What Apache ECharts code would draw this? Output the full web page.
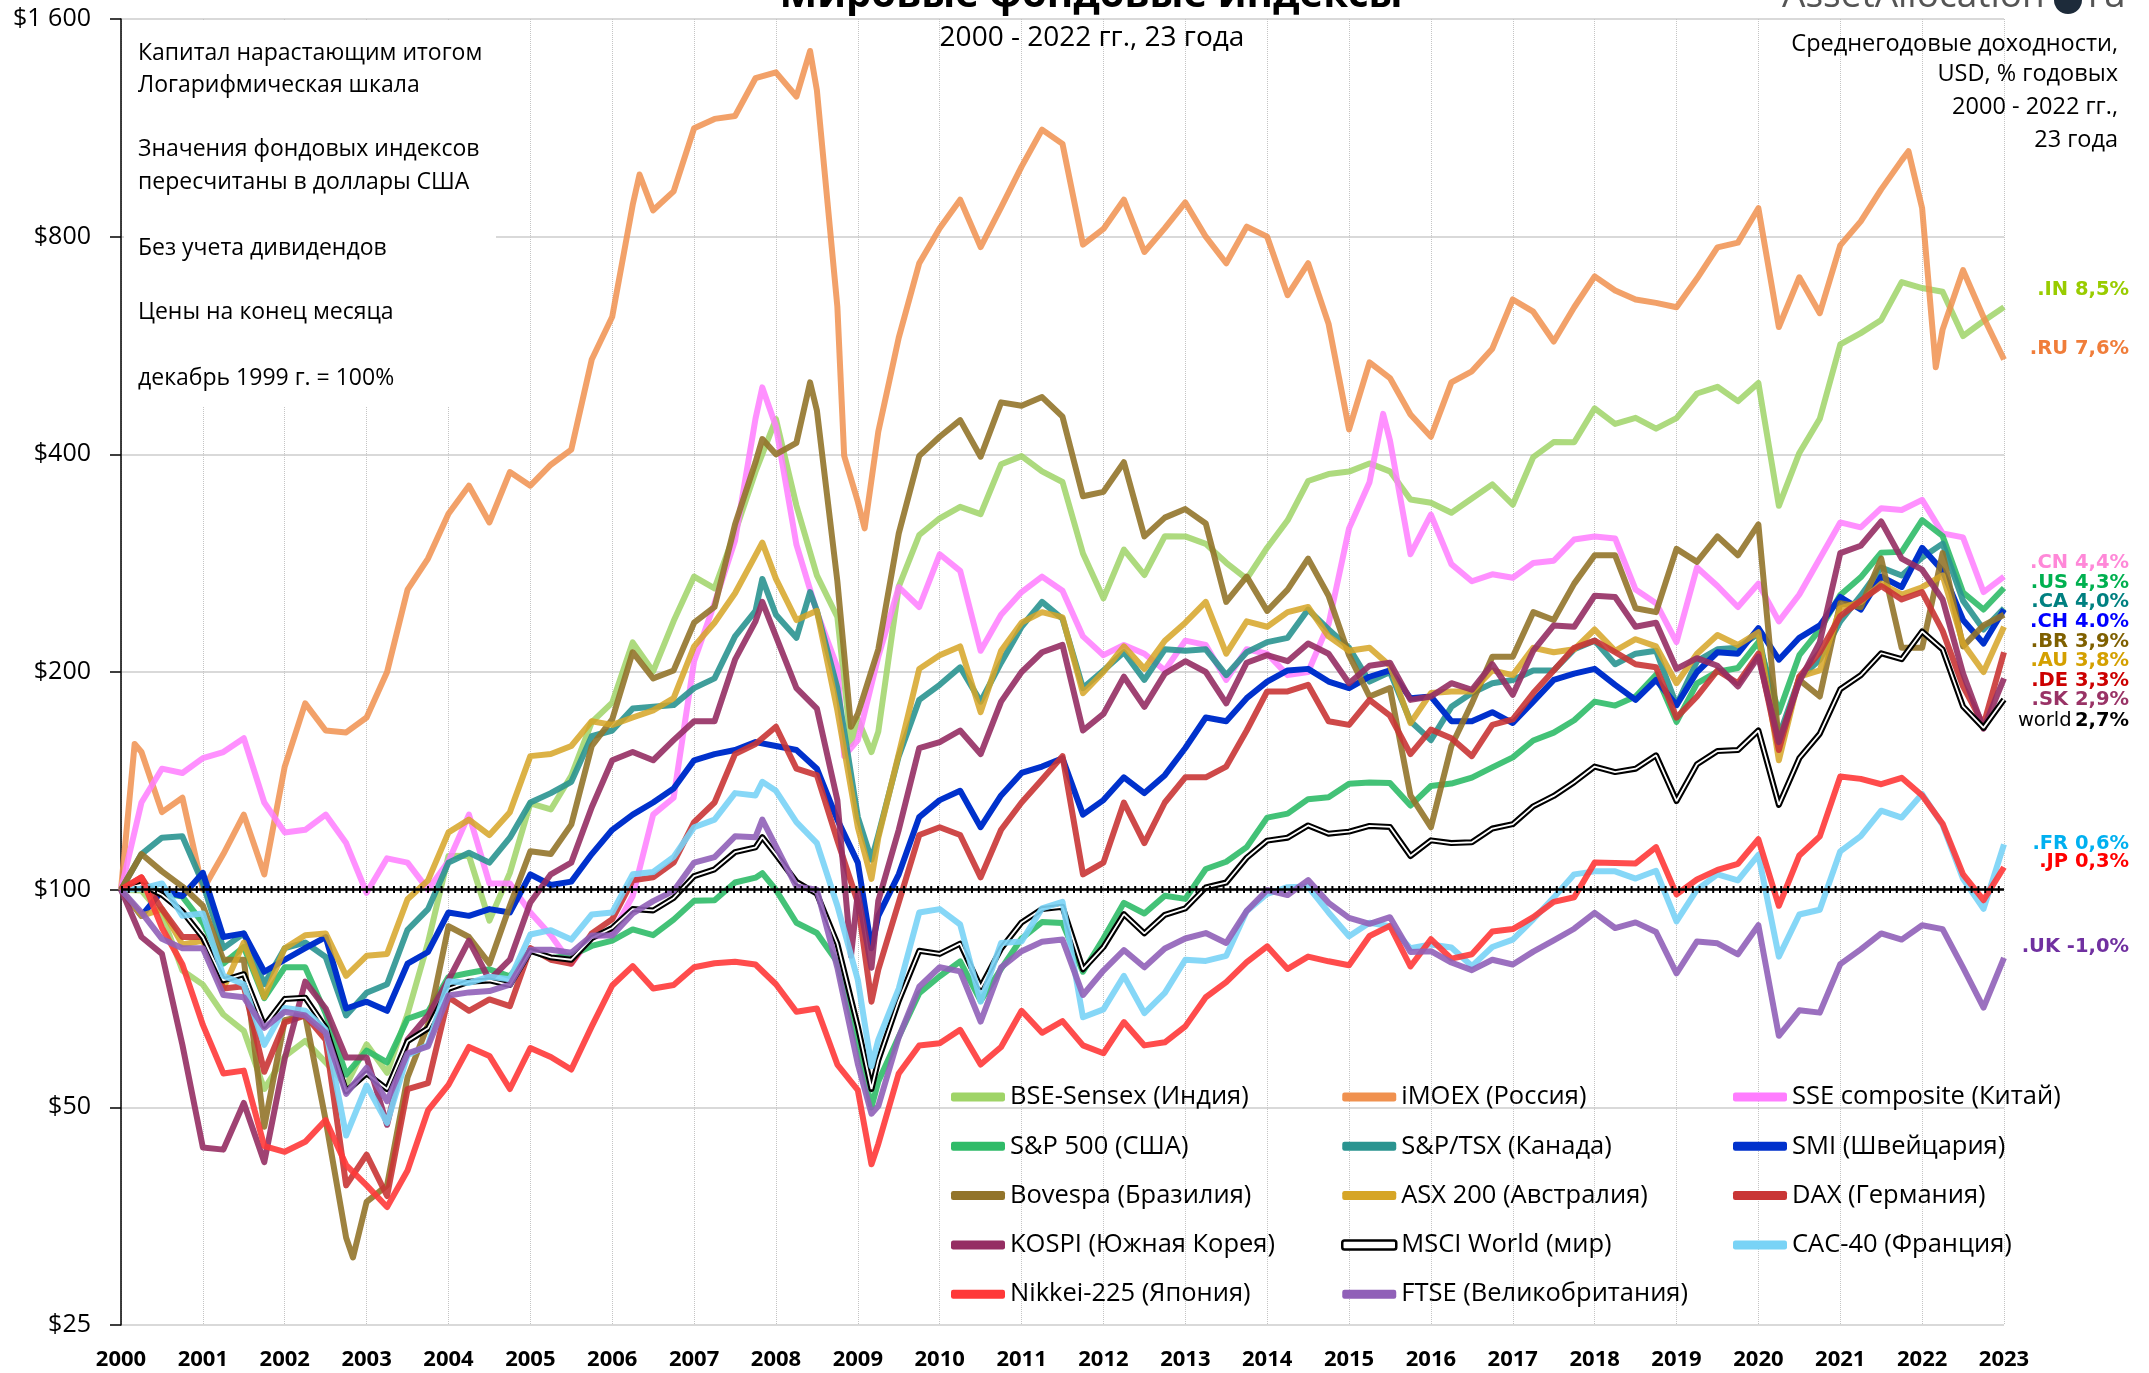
<!DOCTYPE html>
<html><head><meta charset="utf-8">
<script src="https://cdn.jsdelivr.net/npm/echarts@6/dist/echarts.min.js"></script>
<style>html,body{margin:0;padding:0;background:#fff}#c{width:2149px;height:1373px}</style>
</head><body><div id="c"></div>
<script>
// Quarter-end values, Dec 1999 = 100 (index 0), then Mar/Jun/Sep/Dec of 2000..2022
const quarterCount = 93;
const yearTicks = [2000,2001,2002,2003,2004,2005,2006,2007,2008,2009,2010,2011,2012,2013,2014,2015,2016,2017,2018,2019,2020,2021,2022,2023];
const priceTicks = [25, 50, 100, 200, 400, 800, 1600];

const bseIndia = [100,
 99.7,92.3,77.3,73.9, 67.2,63.8,53,58.8, 61.8,57.7,53.6,61.1, 55.8,67.3,84.5,111.3,
 111.4,90.6,105.5,131.6, 129.1,143.7,170.5,181.4, 219.8,200.4,235.2,271, 261.1,312,378.4,447.4,
 339.8,272,238.3,172.1, 165.4,262.4,309.4,326.3, 338.4,330.7,387.5,397.7, 378.8,366.3,291.7,252.9,
 295.3,272.4,308.2,308, 300.8,283.2,269,297.1, 324.2,367.4,375.6,378.6, 388.6,378.9,346.4,342.8,
 332.1,347.5,363.5,340.7, 396.5,415.9,415.6,463.1, 440.7,449.3,434.1,448.9, 485.5,496,473.8,502,
 339.5,401.8,448.1,567.5, 588.4,613.7,692.3,679.3, 671.3,583,611.5,639.2];
const imoexRussia = [100,
 155,128,134,100, 112,127,105,148, 181,166,165,173, 200,260,287,331,
 362,322,378,362, 387,406,541,620, 885,870,924,1130, 1164,1175,1325,1350,
 1250,1275,640,344, 430,580,735,822, 900,774,878,1000, 1125,1075,780,820,
 900,762,822,892, 800,735,826,800, 664,735,606,433, 536,510,454,423,
 503,521,560,655, 630,573,639,705, 674,655,648,639, 700,773,785,876,
 600,703,627,778, 840,930,1020,876, 595,719,619,541];
const sseChina = [100,
 132,147,145,152, 155,162,132,120, 121,127,116,99, 110.5,109,100,109.5,
 127,102,102,93, 86.5,79,86,87, 98,127,134,207, 249,304,448,437,
 300,242,203,161, 210,262,246,291, 276,214,240,258, 271,259,224,211,
 218,212,201,221, 218,195,215,212, 198,200,233,316, 366,418,291,330,
 282,267,273,270, 283,285,305,308, 306,260,249,220, 279,263,246,265,
 235,256,287,322, 317,337,335,346, 311,307,258,271];
const sp500Usa = [100,
 102.0,99.0,97.8,89.9, 79.0,83.3,70.8,78.1, 78.1,67.4,55.5,59.9, 57.7,66.3,67.8,75.7,
 76.7,77.6,75.9,82.5, 80.4,81.1,83.6,85.0, 88.1,86.5,90.9,96.5, 96.7,102.3,103.9,99.9,
 90.0,87.1,79.4,61.5, 54.3,62.6,71.9,75.9, 79.6,70.2,77.7,85.6, 90.2,89.9,77.0,85.6,
 95.9,92.7,98.1,97.1, 106.8,109.3,114.5,125.8, 127.4,133.4,134.2,140.1, 140.7,140.4,130.7,139.1,
 140.2,142.9,147.6,152.4, 160.8,164.9,171.5,182.0, 179.7,185.0,198.3,170.6, 192.9,200.2,202.6,219.9,
 175.9,211.0,228.9,255.6, 270.4,292.5,293.2,324.4, 308.4,257.6,244.0,261.3];
const tsxCanada = [100,
 112,118,118.5,102, 83,87,74,83, 84.5,80.7,67,72, 74,88,94,109,
 112.5,109,118,132, 136,141,163,166, 178,179,180,190, 196,224,243,240,
 223,243,190,126, 119,153,183,192, 203,182,206,231, 250,237,190,201,
 213,195,215,214, 215,198,213,220, 223,244,229,216, 194,200,171,161,
 179,187,193,195, 201,201,215,221, 205,212,214,180, 207,215,216,226,
 163,196,208,235, 255,279,272,288, 301,251,229,245];
const smiSwiss = [100,
 92,99.6,98,105.5, 86,87,77,80, 83,86,68.5,70, 68,79,82,93,
 92,94,93,105, 101.5,102.6,112,121, 127,132,138,151, 154,156,160,158,
 156,147,125,109, 92,105,126,133, 137,122,135,145, 148,152,127,133,
 143,136,144,157, 173,171,184,194, 201,202,194,190, 197,201,184,185,
 171,171,176,170, 182,195,199,202, 192,183,195,180, 200,213,212,230,
 208,223,232,254, 244,271,262,297, 276,236,219,244];
const bovespaBrazil = [100,
 112,106,101,95, 80,80,47,66, 67,48,33,37, 39,55,65,89,
 86,79,95,113, 112,123,158,172, 213,196,201,234, 246,320,390,400,
 415,460,267,175, 215,311,398,423, 446,397,472,467, 480,451,350,355,
 390,308,327,336, 321,250,271,243, 260,287,255,211, 185,190,135,122,
 158,181,210,210, 242,236,265,290, 290,245,242,296, 284,308,290,320,
 160,195,185,249, 246,287,216,216, 292,217,232,240];
const asxAustralia = [100,
 92,94,84,85, 73,84.5,71,83, 86.5,87,76,81, 81.5,97,103,120,
 125,119,128,153, 154,158,171,169, 173,177,184,217, 234,257,290,269,
 236,243,177,122, 118,154,202,211, 217,176,214,234, 242,238,187,200,
 217,202,221,234, 250,212,235,231, 242,246,224,214, 216,204,170,187,
 188,188,201,198, 216,213,215,229, 214,222,217,193, 212,225,218,227,
 151,197,201,245, 250,265,256,262, 272,219,200,231];
const daxGermany = [100,
 104,94,86,86, 73,73.5,56,65.5, 67,62,39,43, 37.7,53,54,71,
 68,70.5,69,83, 80,79,87,91, 103,104,109,124, 132,154,159,168,
 147,144,117,96, 77.5,96,119,122, 119,104,121,132, 142,153,105,109,
 132,116,132,143, 143,148,166,188, 188,192,171,169, 183,174,154,166.5,
 162,153,169,172, 187,201,216,221, 213,205,203,173, 185,201,193,212,
 156,197,213,239, 251,263,252,258, 228,191,169,213];
const kospiKorea = [100,
 86,81.5,61,44, 43.7,50.7,42,58.4, 74.6,68.5,58.6,58.6, 47.3,62,67,75,
 85,75,80,96, 105,109,130,151, 155,151,161,171, 171,208,235,224,
 190,178,133,99, 96.5,121,157,160, 166,154,182,200, 213,218,166,175,
 197,179,199,207, 200,181,206,211, 207,219,212,193, 204,206,183,185,
 193,189,205,186, 214,232,231,255, 254,231,234,202, 209,204,191,210,
 160,194,220,292, 299,323,287,277, 252,199,167,196];
const msciWorld = [100,
 101.6,98.4,93.3,85.9, 74.9,76.4,64.8,70.6, 70.9,64.4,52.6,55.7, 53.0,61.7,64.3,72.9,
 74.6,74.9,73.8,82.3, 80.6,80.0,85.7,88.5, 94.0,93.6,97.4,104.4, 106.7,112.7,114.4,111.8,
 102.5,98.7,84.2,64.7, 58.1,70.2,82.3,81.5, 84.2,73.3,82.9,90.1, 94.0,94.7,77.6,83.3,
 92.5,87.0,92.3,94.2, 100.7,102.3,110.7,116.9, 118.0,122.7,119.5,120.3, 122.5,122.1,111.3,117.0,
 116.0,116.3,121.5,123.2, 130.4,134.8,140.8,148.0, 145.4,147.0,153.4,132.6, 149.1,155.5,156.0,166.0,
 131.0,152.0,164.3,189.3, 197.9,212.3,208.3,227.5, 214.9,179.2,167.4,183.2];
const cacFrance = [100,
 100.3,102,92,92.7, 76,74,61,68.6, 68,64,45.7,53.6, 47.6,59,61,74.7,
 74.3,75.8,75.2,86.7, 87.9,85.3,92.4,93, 105,105.8,111,122, 125,136,135,137,
 124,116,95,75, 62,73,93,94, 89.5,70,84.4,84.8, 94.2,96.2,66.6,68.3,
 76,67.5,72,80, 79.7,81,93.4,98.7, 100.8,101,93,86.2, 90,89,83,84,
 83.2,78.4,83.3,85.3, 91,97.5,105,106, 106,103.6,106.2,90.4, 100,105,103,111.7,
 80.8,92.4,93.8,113, 118.6,128.6,125.8,135.6, 122.9,103.5,94.1,115.5];
const nikkeiJapan = [100,
 104,88.6,78.8,65, 55.7,56.2,44.2,43.4, 44.8,48,41.6,39, 36.4,40.9,49.5,53.7,
 60.6,58.9,53,60.4, 58.7,56.4,64.7,73.7, 78.4,73,73.8,78.1, 79.1,79.5,78.8,74,
 67.8,68.5,57.3,52.8, 44.5,55.7,60.9,61.3, 64,57.3,60.6,68, 63.4,65.8,60.9,59.4,
 65.6,60.9,61.5,64.7, 71,74.5,79.4,83.5, 77.7,80.8,79.6,78.6, 86.3,89.1,78.3,85.4,
 80.3,81.4,87.5,88.2, 91.6,96.2,97.6,109, 108.9,108.7,114.5,98.5, 103.3,106.5,108.6,117.4,
 95,111.5,118.5,143.4, 142.3,139.9,142.8,135, 123.4,105,96.7,107.4];
const ftseUk = [100,
 93,85.5,83,83, 71.5,71,64.4,67.8, 67,63.4,52.2,56.7, 51,59.4,60.7,71.4,
 72.1,72.4,73.9,82.6, 82.6,81.8,86.4,86.4, 92.7,96.4,99.6,109, 110.9,118.5,118.2,114.8,
 101,100,78,57.4, 50.2,62.5,73.4,78.1, 77.1,65.7,78.1,82.2, 84.7,85.3,71.5,77.3,
 82.5,78.1,82.9,85.6, 87.1,84.4,93.5,99.9, 98.3,103.1,95.9,91.4, 89.7,91.6,82,82.2,
 79.3,77.4,80,78.8, 82.1,85.1,88.3,92.9, 88.5,90.1,87.4,76.6, 84.8,84.3,81.4,89.3,
 62.8,68.1,67.6,78.9, 82.7,87,85.3,89.3, 88.2,78,68.7,80.5];

// Extra month-end readings at visible peaks/troughs between quarter ends
const bseIndiaExtraMonths = ['2008-11', '2009-02'];
const bseIndiaExtraValues = [159, 155];
const imoexExtraMonths = ['2000-02', '2006-04', '2008-05', '2008-10', '2009-01', '2021-10', '2022-02'];
const imoexExtraValues = [159, 975, 1445, 398, 316, 1050, 528];
const sseExtraMonths = ['2007-10', '2008-10', '2015-05'];
const sseExtraValues = [495, 153, 455];
const sp500ExtraMonths = ['2007-10', '2009-02'];
const sp500ExtraValues = [105.4, 50.0];
const tsxExtraMonths = ['2007-10', '2008-05', '2009-02'];
const tsxExtraValues = [269, 258, 110];
const smiExtraMonths = ['2009-02'];
const smiExtraValues = [83];
const bovespaExtraMonths = ['2002-10', '2007-10', '2008-05', '2008-11'];
const bovespaExtraValues = [31, 420, 503, 168];
const asxExtraMonths = ['2007-10', '2009-02'];
const asxExtraValues = [302, 103.5];
const daxExtraMonths = ['2009-02'];
const daxExtraValues = [70];
const kospiExtraMonths = ['2007-10', '2008-11', '2009-02'];
const kospiExtraValues = [250, 81, 78];
const msciExtraMonths = ['2007-10', '2009-02'];
const msciExtraValues = [118.2, 53];
const cacExtraMonths = ['2007-10', '2009-02'];
const cacExtraValues = [141, 57];
const nikkeiExtraMonths = ['2009-02'];
const nikkeiExtraValues = [41.7];
const ftseExtraMonths = ['2007-10', '2009-02'];
const ftseExtraValues = [125, 49];

const cagrLabels = [
  {t: '.IN 8,5%', c: '#99cc00', y: 290},
  {t: '.RU 7,6%', c: '#f07d3a', y: 349},
  {t: '.CN 4,4%', c: '#ff88d8', y: 563},
  {t: '.US 4,3%', c: '#00b050', y: 583},
  {t: '.CA 4,0%', c: '#008080', y: 602},
  {t: '.CH 4.0%', c: '#0000ff', y: 622},
  {t: '.BR 3,9%', c: '#7f6000', y: 642},
  {t: '.AU 3,8%', c: '#d4a000', y: 661},
  {t: '.DE 3,3%', c: '#cc0000', y: 681},
  {t: '.SK 2,9%', c: '#993366', y: 700},
  {t: '.FR 0,6%', c: '#00b0f0', y: 844},
  {t: '.JP 0,3%', c: '#ff0000', y: 862},
  {t: '.UK -1,0%', c: '#7030a0', y: 947}
];

const baseValue = 100;
const xYears = Array.from({length: quarterCount}, (_, i) => 2000 + i / 4);
// a month-end reading is plotted at the start of the following month
const monthPos = m => { const [y, mo] = m.split('-').map(Number); return y + mo / 12; };
const logT = v => Math.log2(v / priceTicks[0]);
const toPts = (vals, exM, exV) => {
  const pts = vals.map((v, i) => [xYears[i], logT(v)]);
  (exM || []).forEach((m, k) => pts.push([monthPos(m), logT(exV[k])]));
  return pts.sort((a, b) => a[0] - b[0]);
};
const FONT = '"Open Sans", "Noto Sans", sans-serif';

const seriesDefs = [
  {name: 'BSE-Sensex (Индия)', data: bseIndia, exM: bseIndiaExtraMonths, exV: bseIndiaExtraValues, color: '#9fd467', op: 0.85},
  {name: 'iMOEX (Россия)', data: imoexRussia, exM: imoexExtraMonths, exV: imoexExtraValues, color: '#f0914f', op: 0.85},
  {name: 'SSE composite (Китай)', data: sseChina, exM: sseExtraMonths, exV: sseExtraValues, color: '#ff7dff', op: 0.85},
  {name: 'S&P 500 (США)', data: sp500Usa, exM: sp500ExtraMonths, exV: sp500ExtraValues, color: '#2fbb68', op: 0.9},
  {name: 'S&P/TSX (Канада)', data: tsxCanada, exM: tsxExtraMonths, exV: tsxExtraValues, color: '#2a9490', op: 0.9},
  {name: 'SMI (Швейцария)', data: smiSwiss, exM: smiExtraMonths, exV: smiExtraValues, color: '#0031cc', op: 1},
  {name: 'Bovespa (Бразилия)', data: bovespaBrazil, exM: bovespaExtraMonths, exV: bovespaExtraValues, color: '#92742a', op: 0.9},
  {name: 'ASX 200 (Австралия)', data: asxAustralia, exM: asxExtraMonths, exV: asxExtraValues, color: '#d6a526', op: 0.85},
  {name: 'DAX (Германия)', data: daxGermany, exM: daxExtraMonths, exV: daxExtraValues, color: '#c93535', op: 0.9},
  {name: 'KOSPI (Южная Корея)', data: kospiKorea, exM: kospiExtraMonths, exV: kospiExtraValues, color: '#952e63', op: 0.9},
  {name: 'MSCI World (мир)', data: msciWorld, exM: msciExtraMonths, exV: msciExtraValues, color: '#000000', op: 1},
  {name: 'CAC-40 (Франция)', data: cacFrance, exM: cacExtraMonths, exV: cacExtraValues, color: '#79d3f6', op: 0.9},
  {name: 'Nikkei-225 (Япония)', data: nikkeiJapan, exM: nikkeiExtraMonths, exV: nikkeiExtraValues, color: '#ff3838', op: 0.9},
  {name: 'FTSE (Великобритания)', data: ftseUk, exM: ftseExtraMonths, exV: ftseExtraValues, color: '#9060b8', op: 0.9}
];

const series = [];
seriesDefs.forEach(d => {
  const isWorld = d.name.startsWith('MSCI');
  const pts = toPts(d.data, d.exM, d.exV);
  series.push({
    name: d.name, type: 'line', data: pts, symbol: 'none', color: d.color,
    lineStyle: {width: isWorld ? 6 : 6, color: d.color, opacity: d.op, join: 'round'},
    silent: true, z: 2
  });
  if (isWorld) {
    series.push({
      name: 'MSCI World inner', type: 'line', data: pts, symbol: 'none',
      lineStyle: {width: 1.8, color: '#ffffff', opacity: 1}, silent: true, z: 2
    });
  }
});
series.push({
  name: 'ruler', type: 'line', data: [], silent: true, z: 5,
  markLine: {
    silent: true, symbol: ['none', 'none'], label: {show: false}, animation: false,
    data: [
      {yAxis: logT(baseValue), lineStyle: {color: '#000', width: 7, type: [2, 4.8]}},
      {yAxis: logT(baseValue), lineStyle: {color: '#000', width: 2.5, type: 'solid'}}
    ]
  }
});

const legendBase = {
  orient: 'vertical', top: 1077, itemGap: 19.3, itemWidth: 54, itemHeight: 9, icon: 'roundRect',
  selectedMode: false,
  textStyle: {fontFamily: FONT, fontSize: 25.5, color: '#000', lineHeight: 30}
};
const fmtPrice = v => '$' + (v >= 1000 ? Math.floor(v / 1000) + ' ' + String(v % 1000).padStart(3, '0') : v);

const leftNotes = [
  ['Капитал нарастающим итогом', 53],
  ['Логарифмическая шкала', 85],
  ['Значения фондовых индексов', 149],
  ['пересчитаны в доллары США', 182],
  ['Без учета дивидендов', 248],
  ['Цены на конец месяца', 312],
  ['декабрь 1999 г. = 100%', 378]
];
const rightNotes = [
  ['Среднегодовые доходности,', 44],
  ['USD, % годовых', 74],
  ['2000 - 2022 гг.,', 107],
  ['23 года', 140]
];

const graphics = [
  {type: 'rect', z: 1, shape: {x: 124, y: 21, width: 372, height: 385}, style: {fill: '#fff'}},
  {type: 'text', z: 10, style: {text: 'Мировые фондовые индексы', x: 1091, y: -4, align: 'center', verticalAlign: 'middle',
     textAlign: 'center', textVerticalAlign: 'middle', font: 'bold 40px ' + FONT, fill: '#000'}},
  {type: 'text', z: 10, style: {text: '2000 - 2022 гг., 23 года', x: 1092, y: 38, align: 'center', verticalAlign: 'middle',
     textAlign: 'center', textVerticalAlign: 'middle', font: '28px ' + FONT, fill: '#000'}},
  {type: 'text', z: 10, style: {text: 'AssetAllocation', x: 1782, y: -4, align: 'left', verticalAlign: 'middle',
     textAlign: 'left', textVerticalAlign: 'middle', font: '37px ' + FONT, fill: '#555'}},
  {type: 'circle', z: 10, shape: {cx: 2068, cy: 0, r: 14}, style: {fill: '#1d2b3a'}},
  {type: 'text', z: 10, style: {text: 'ru', x: 2088, y: -4, align: 'left', verticalAlign: 'middle',
     textAlign: 'left', textVerticalAlign: 'middle', font: '37px ' + FONT, fill: '#555'}}
];
leftNotes.forEach(([t, y]) => graphics.push({type: 'text', z: 10, style: {text: t, x: 138, y, align: 'left',
  verticalAlign: 'middle', textAlign: 'left', textVerticalAlign: 'middle', font: '23px ' + FONT, fill: '#000'}}));
rightNotes.forEach(([t, y]) => graphics.push({type: 'text', z: 10, style: {text: t, x: 2118, y, align: 'right',
  verticalAlign: 'middle', textAlign: 'right', textVerticalAlign: 'middle', font: '23.5px ' + FONT, fill: '#000'}}));
cagrLabels.forEach(l => graphics.push({type: 'text', z: 10, style: {text: l.t, x: 2129, y: l.y, align: 'right',
  verticalAlign: 'middle', textAlign: 'right', textVerticalAlign: 'middle', font: 'bold 19.5px "DejaVu Sans"', fill: l.c}}));
graphics.push({type: 'text', z: 10, style: {text: '{n|world} {b|2,7%}', x: 2129, y: 721, align: 'right',
  verticalAlign: 'middle', textAlign: 'right', textVerticalAlign: 'middle',
  rich: {n: {font: '19.5px "DejaVu Sans"', fill: '#000'}, b: {font: 'bold 19.5px "DejaVu Sans"', fill: '#000'}}}});

const chart = echarts.init(document.getElementById('c'), null, {renderer: 'canvas'});
chart.setOption({
  animation: false,
  backgroundColor: '#fff',
  grid: {left: 121, right: 145, top: 19, bottom: 48, containLabel: false},
  xAxis: {
    type: 'value', min: yearTicks[0], max: yearTicks[yearTicks.length - 1], interval: 1,
    axisLine: {show: false}, axisTick: {show: false},
    axisLabel: {formatter: v => String(v), fontFamily: FONT, fontWeight: 'bold', fontSize: 22, color: '#000', margin: 24,
      showMinLabel: true, showMaxLabel: true},
    splitLine: {show: true, lineStyle: {color: '#c4c4c4', width: 1, type: 'dotted'}}
  },
  yAxis: {
    type: 'value', min: 0, max: logT(priceTicks[priceTicks.length - 1]), interval: 1,
    axisLine: {show: true, lineStyle: {color: '#000', width: 1.5}},
    axisTick: {show: true, length: 11, lineStyle: {color: '#000', width: 1.5}},
    axisLabel: {formatter: t => fmtPrice(priceTicks[Math.round(t)]), fontFamily: FONT, fontSize: 25, color: '#000', margin: 30},
    splitLine: {show: true, lineStyle: {color: '#d9d9d9', width: 2}}
  },
  legend: [
    Object.assign({}, legendBase, {left: 946, data: ['BSE-Sensex (Индия)', 'S&P 500 (США)', 'Bovespa (Бразилия)', 'KOSPI (Южная Корея)', 'Nikkei-225 (Япония)']}),
    Object.assign({}, legendBase, {left: 1336, data: ['iMOEX (Россия)', 'S&P/TSX (Канада)', 'ASX 200 (Австралия)',
      {name: 'MSCI World (мир)', itemStyle: {color: '#fff', borderColor: '#000', borderWidth: 2.5}}, 'FTSE (Великобритания)']}),
    Object.assign({}, legendBase, {left: 1728, data: ['SSE composite (Китай)', 'SMI (Швейцария)', 'DAX (Германия)', 'CAC-40 (Франция)']})
  ],
  graphic: graphics,
  series: series
});
</script></body></html>
